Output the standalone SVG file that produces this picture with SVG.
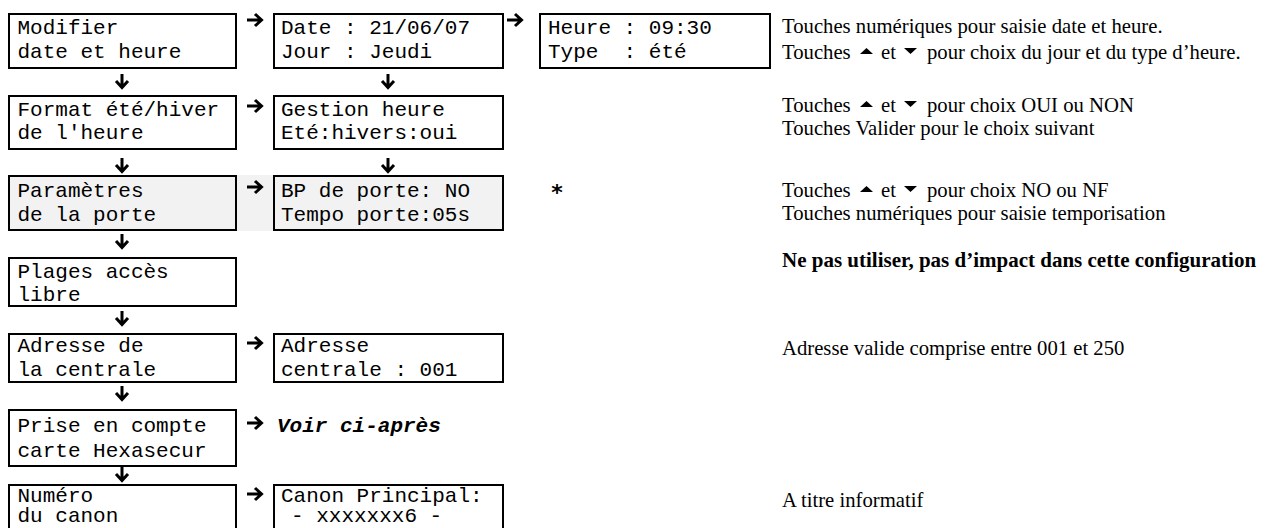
<svg xmlns="http://www.w3.org/2000/svg" xmlns:xlink="http://www.w3.org/1999/xlink" width="1265" height="528" viewBox="0 0 1265 528">
<style>
.box{fill:#ffffff;stroke:#000;stroke-width:2}
.gbox{fill:#f2f2f2;stroke:#000;stroke-width:2}
.m{font-family:"Courier New","Liberation Mono",monospace;font-size:21px;fill:#000}
.mb{font-family:"Courier New","Liberation Mono",monospace;font-size:21px;font-weight:bold;font-style:italic;fill:#000}
.t{font-family:"Times New Roman","Liberation Serif",serif;font-size:20.7px;fill:#000}
.tb{font-family:"Times New Roman","Liberation Serif",serif;font-size:21px;font-weight:bold;fill:#000}
.ar{fill:none;stroke:#000;stroke-width:3;stroke-linejoin:miter;stroke-linecap:butt}
</style>
<defs>
<g id="down"><path class="ar" d="M0,-7 V5 M-6,0 L0,6.5 L6,0"/></g>
<g id="right"><path class="ar" d="M-8,0 H5 M0,-6 L6.5,0 L0,6"/></g>
</defs>
<rect width="1265" height="528" fill="#fff"/>
<rect x="237" y="175" width="37" height="56" fill="#f2f2f2"/>

<g id="n-modifier"><rect class="box" x="9" y="14" width="227" height="54"/><text class="m" x="17.5" y="34">Modifier</text><text class="m" x="17.5" y="58">date et heure</text></g>
<g id="n-date"><rect class="box" x="274" y="14" width="229" height="54"/><text class="m" x="281" y="34">Date : 21/06/07</text><text class="m" x="281" y="58">Jour : Jeudi</text></g>
<g id="n-heure"><rect class="box" x="540" y="14" width="230" height="54"/><text class="m" x="548" y="34" xml:space="preserve">Heure : 09:30</text><text class="m" x="548" y="58" xml:space="preserve">Type  : été</text></g>

<g id="n-format"><rect class="box" x="9" y="96" width="227" height="53"/><text class="m" x="17.5" y="116">Format été/hiver</text><text class="m" x="17.5" y="139">de l'heure</text></g>
<g id="n-gestion"><rect class="box" x="274" y="96" width="229" height="53"/><text class="m" x="281" y="116">Gestion heure</text><text class="m" x="281" y="139">Eté:hivers:oui</text></g>

<g id="n-parametres"><rect class="gbox" x="9" y="176" width="227" height="54"/><text class="m" x="17.5" y="197">Paramètres</text><text class="m" x="17.5" y="221">de la porte</text></g>
<g id="n-bp"><rect class="gbox" x="274" y="176" width="229" height="54"/><text class="m" x="281" y="197">BP de porte: NO</text><text class="m" x="281" y="221">Tempo porte:05s</text></g>
<g id="n-star"><text x="557" y="200" text-anchor="middle" font-family="DejaVu Sans, sans-serif" font-weight="bold" font-size="22">*</text></g>

<g id="n-plages"><rect class="box" x="9" y="258" width="227" height="48"/><text class="m" x="17.5" y="278">Plages accès</text><text class="m" x="17.5" y="301">libre</text></g>

<g id="n-adresse"><rect class="box" x="9" y="334" width="227" height="48"/><text class="m" x="17.5" y="352">Adresse de</text><text class="m" x="17.5" y="376">la centrale</text></g>
<g id="n-adrcentrale"><rect class="box" x="274" y="334" width="229" height="48"/><text class="m" x="281" y="352">Adresse</text><text class="m" x="281" y="376">centrale : 001</text></g>

<g id="n-prise"><rect class="box" x="9" y="410" width="227" height="56"/><text class="m" x="17.5" y="432">Prise en compte</text><text class="m" x="17.5" y="457">carte Hexasecur</text></g>
<g id="n-voir"><text class="mb" x="277" y="432">Voir ci-après</text></g>

<g id="n-numero"><rect class="box" x="9" y="485" width="227" height="60"/><text class="m" x="17.5" y="502">Numéro</text><text class="m" x="17.5" y="522">du canon</text></g>
<g id="n-canon"><rect class="box" x="274" y="485" width="229" height="60"/><text class="m" x="281" y="502">Canon Principal:</text><text class="m" x="291" y="522">- xxxxxxx6 -</text></g>

<g id="connectors">
<use xlink:href="#right" x="255" y="20"/>
<use xlink:href="#right" x="515" y="20"/>
<use xlink:href="#right" x="255" y="106"/>
<use xlink:href="#right" x="255" y="187"/>
<use xlink:href="#right" x="255" y="343"/>
<use xlink:href="#right" x="255" y="423"/>
<use xlink:href="#right" x="255" y="494"/>
<use xlink:href="#down" x="122" y="81"/>
<use xlink:href="#down" x="388" y="81"/>
<use xlink:href="#down" x="122" y="165"/>
<use xlink:href="#down" x="388" y="165"/>
<use xlink:href="#down" x="122" y="241"/>
<use xlink:href="#down" x="122" y="318"/>
<use xlink:href="#down" x="122" y="393"/>
<use xlink:href="#down" x="122" y="474"/>
</g>

<g id="notes">
<text class="t" x="782" y="33">Touches numériques pour saisie date et heure.</text>
<text class="t" x="782" y="59">Touches</text><polygon points="860,54 866.5,48 873,54"/><text class="t" x="881" y="59">et</text><polygon points="904,48 917,48 910.5,54"/><text class="t" x="927" y="59">pour choix du jour et du type d’heure.</text>
<text class="t" x="782" y="112">Touches</text><polygon points="860,107 866.5,101 873,107"/><text class="t" x="881" y="112">et</text><polygon points="904,101 917,101 910.5,107"/><text class="t" x="927" y="112">pour choix OUI ou NON</text>
<text class="t" x="782" y="135">Touches Valider pour le choix suivant</text>
<text class="t" x="782" y="197">Touches</text><polygon points="860,192 866.5,186 873,192"/><text class="t" x="881" y="197">et</text><polygon points="904,186 917,186 910.5,192"/><text class="t" x="927" y="197">pour choix NO ou NF</text>
<text class="t" x="782" y="220">Touches numériques pour saisie temporisation</text>
<text class="tb" x="782" y="267">Ne pas utiliser, pas d’impact dans cette configuration</text>
<text class="t" x="782" y="355">Adresse valide comprise entre 001 et 250</text>
<text class="t" x="782" y="507">A titre informatif</text>
</g>
</svg>
